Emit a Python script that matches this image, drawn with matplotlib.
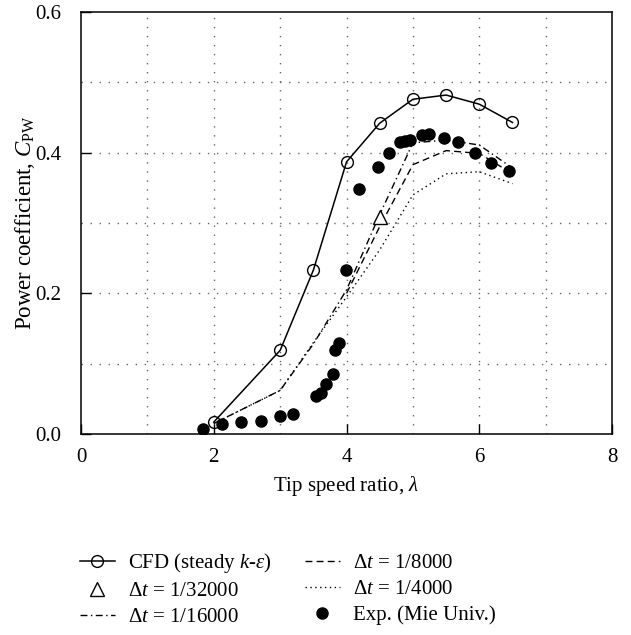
import matplotlib
matplotlib.use("Agg")
import matplotlib.pyplot as plt

plt.rcParams['font.family'] = ['Liberation Serif', 'DejaVu Serif']
plt.rcParams['mathtext.fontset'] = 'custom'
plt.rcParams['mathtext.rm'] = 'Liberation Serif'
plt.rcParams['mathtext.it'] = 'Liberation Serif:italic'
plt.rcParams['mathtext.bf'] = 'Liberation Serif:bold'

# CFD steady k-epsilon
cfd_x = [2, 3, 3.5, 4, 4.5, 5, 5.5, 6, 6.5]
cfd_y = [0.017, 0.119, 0.233, 0.387, 0.442, 0.476, 0.482, 0.469, 0.443]

# dt = 1/32000
dt32_x = [4.5]
dt32_y = [0.308]

# dt = 1/16000
dt16_x = [2, 3, 3.5, 4, 4.5, 5, 5.5, 6, 6.5]
dt16_y = [0.015, 0.062, 0.128, 0.205, 0.312, 0.414, 0.418, 0.411, 0.378]

# dt = 1/8000
dt8_x = [4, 4.5, 5, 5.5, 6, 6.5]
dt8_y = [0.2, 0.295, 0.383, 0.403, 0.399, 0.370]

# dt = 1/4000
dt4_x = [2, 3, 3.5, 4, 4.5, 5, 5.5, 6, 6.5]
dt4_y = [0.015, 0.062, 0.13, 0.195, 0.262, 0.34, 0.370, 0.373, 0.356]

# Experiment (Mie Univ.)
exp_x = [1.84, 2.12, 2.41, 2.71, 3.0, 3.19, 3.54, 3.62, 3.69, 3.79, 3.83, 3.89, 3.99,
         4.19, 4.47, 4.64, 4.80, 4.88, 4.95, 5.14, 5.24, 5.47, 5.68, 5.93, 6.18, 6.44]
exp_y = [0.007, 0.014, 0.017, 0.019, 0.025, 0.029, 0.054, 0.058, 0.071, 0.085, 0.119, 0.129, 0.233,
         0.349, 0.379, 0.400, 0.415, 0.416, 0.418, 0.425, 0.426, 0.421, 0.415, 0.400, 0.385, 0.374]

xticks = [0, 2, 4, 6, 8]
yticks = [0.0, 0.2, 0.4, 0.6]
xlabels = ['0', '2', '4', '6', '8']
ylabels = ['0.0', '0.2', '0.4', '0.6']

fig = plt.figure(figsize=(6.31, 6.35), dpi=100)
ax = fig.add_axes([0.1284, 0.3165, 0.8416, 0.6645])

fs = 15
h_cfd, = ax.plot(cfd_x, cfd_y, '-', color='black', lw=1.1, marker='o', ms=8.5,
                 mfc='none', mec='black', mew=1.0, label='CFD (steady $k$-$\\varepsilon$)')
h16, = ax.plot(dt16_x, dt16_y, color='black', lw=1.0, dashes=(5, 2.5, 1, 2.5),
               label='Δ$t$ = 1/16000')
h8, = ax.plot(dt8_x, dt8_y, color='black', lw=1.0, dashes=(5, 3), label='Δ$t$ = 1/8000')
h4, = ax.plot(dt4_x, dt4_y, color='black', lw=1.0, dashes=(1, 2.5), label='Δ$t$ = 1/4000')
h32, = ax.plot(dt32_x, dt32_y, linestyle='none', marker='^', ms=9.5, mfc='white',
               mec='black', mew=1.0, label='Δ$t$ = 1/32000')
hexp, = ax.plot(exp_x, exp_y, linestyle='none', marker='o', ms=8, color='black',
                label='Exp. (Mie Univ.)')

ax.set_xlim(0, 8)
ax.set_ylim(0, 0.6)
ax.set_xticks(xticks)
ax.set_xticklabels(xlabels)
ax.set_yticks(yticks)
ax.set_yticklabels(ylabels)
ax.tick_params(which='major', direction='in', length=7, width=1.0, labelsize=fs)
ax.tick_params(axis='x', pad=10)
ax.tick_params(axis='y', pad=14)
for xv in [1, 2, 3, 4, 5, 6, 7]:
    ax.axvline(xv, color='#666666', lw=1.0, dashes=(1, 5.5), zorder=0)
for yv in [0.1, 0.2, 0.3, 0.4, 0.5]:
    ax.axhline(yv, color='#666666', lw=1.0, dashes=(1, 5.5), zorder=0)
for s in ax.spines.values():
    s.set_linewidth(1.1)

ax.set_xlabel('Tip speed ratio, $\\lambda$', fontsize=fs, labelpad=5)
ax.set_ylabel('Power coefficient, $C_{\\mathrm{PW}}$', fontsize=fs + 1.5, labelpad=-1)

handles = [h_cfd, h32, h16, h8, h4, hexp]
labels = [h.get_label() for h in handles]
leg = fig.legend(handles, labels, ncol=2, loc='upper left', bbox_to_anchor=(0.113, 0.145),
                 frameon=False, fontsize=fs, handlelength=1.7, handletextpad=0.6,
                 columnspacing=1.6, labelspacing=0.3, borderaxespad=0)

fig.savefig('out.png', dpi=100)
